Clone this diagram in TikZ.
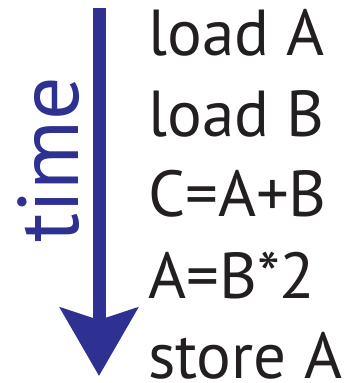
\documentclass[tikz,border=0pt]{standalone}
\usepackage{fontspec}
\setmainfont{PT Sans}
\usetikzlibrary{arrows.meta}
\definecolor{timeblue}{RGB}{46,49,146}
\definecolor{ink}{RGB}{35,31,32}
\begin{document}
\begin{tikzpicture}[x = 1pt, y = 1pt,
  instr/.style = {anchor = base west, inner sep = 0, text = ink, font = \fontsize{65}{80}\selectfont},
  timearrow/.style = {draw = timeblue, line width = 13pt, -{Stealth[length = 68pt, width = 77pt, inset = 12pt]}}]
\useasboundingbox (0,0) rectangle (347,-383);
\coordinate (start) at (99,-8);
\coordinate (end) at (99,-376);
\draw[timearrow] (start) -- (end);
\node[anchor = base west, inner sep = 0, rotate = 90, text = timeblue, font = \fontsize{86}{90}\selectfont] (time) at (78,-243) {time};
\node[instr] (loadA) at (148,-55) {load A};
\node[instr] (loadB) at (148,-136) {load B};
\node[instr] (add) at (148,-216) {C=A+B};
\node[instr] (mul) at (148,-298) {A=B*2};
\node[instr] (store) at (148,-378) {store A};
\end{tikzpicture}
\end{document}
